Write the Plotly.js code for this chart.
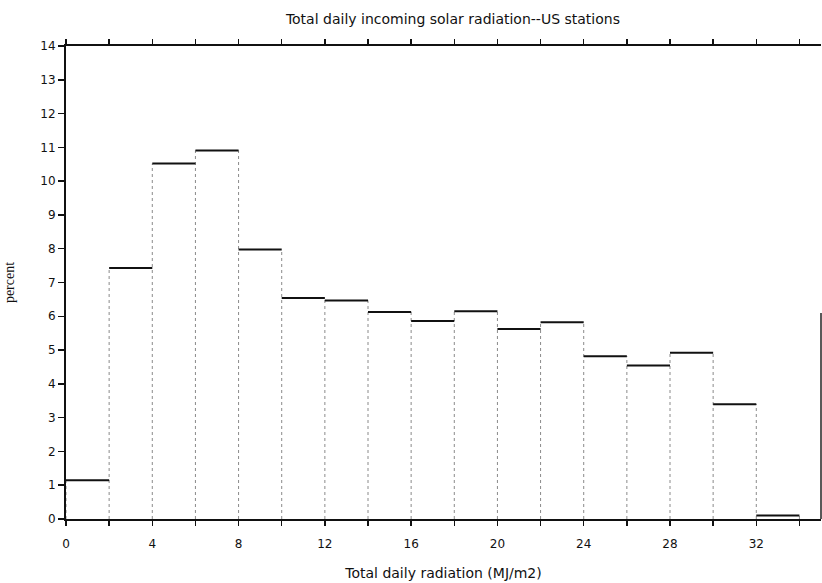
<!DOCTYPE html>
<html>
<head>
<meta charset="utf-8">
<script src="https://cdn.plot.ly/plotly-3.0.1.min.js"></script>
<style>
  html, body { margin: 0; padding: 0; background: #fff; }
  #chart { width: 822px; height: 583px; }
</style>
</head>
<body>
<div id="chart"></div>
<script>
// Histogram bins (MJ/m2): lower and upper edge of each bin
const binLow  = [0, 2, 4, 6, 8, 10, 12, 14, 16, 18, 20, 22, 24, 26, 28, 30, 32];
const binHigh = [2, 4, 6, 8, 10, 12, 14, 16, 18, 20, 22, 24, 26, 28, 30, 32, 34];
// Percent of days in each bin
const percent = [1.15, 7.43, 10.52, 10.91, 7.98, 6.54, 6.47, 6.13, 5.86, 6.15, 5.62, 5.82, 4.82, 4.54, 4.92, 3.40, 0.10];

const xTickVals = [0, 2, 4, 6, 8, 10, 12, 14, 16, 18, 20, 22, 24, 26, 28, 30, 32, 34];
const xTickText = ['0', '', '4', '', '8', '', '12', '', '16', '', '20', '', '24', '', '28', '', '32', ''];
const yTickVals = [0, 1, 2, 3, 4, 5, 6, 7, 8, 9, 10, 11, 12, 13, 14];

// Build step outline pieces from the data arrays
const topX = [], topY = [];
binLow.forEach((lo, i) => {
  topX.push(lo, binHigh[i], null);
  topY.push(percent[i], percent[i], null);
});
const sideX = [], sideY = [];
binLow.forEach((lo, i) => {
  const left = i > 0 ? percent[i - 1] : 0;
  sideX.push(lo, lo, null);
  sideY.push(0, Math.max(left, percent[i]), null);
});
const last = binLow.length - 1;
sideX.push(binHigh[last], binHigh[last], null);
sideY.push(0, percent[last], null);

const traces = [
  {
    type: 'scatter', mode: 'lines', x: sideX, y: sideY,
    line: { color: '#8a8a8a', width: 1, dash: 'dot' },
    hoverinfo: 'skip', showlegend: false, connectgaps: false
  },
  {
    type: 'scatter', mode: 'lines', x: topX, y: topY,
    line: { color: '#111', width: 2 },
    showlegend: false, connectgaps: false
  }
];

const layout = {
  width: 822, height: 583,
  margin: { l: 66, r: 1, t: 46, b: 64 },
  paper_bgcolor: '#fff', plot_bgcolor: '#fff',
  font: { family: 'DejaVu Sans, Arial, sans-serif', size: 12, color: '#111' },
  title: {
    text: 'Total daily incoming solar radiation--US stations',
    font: { family: 'DejaVu Sans, Arial, sans-serif', size: 14, color: '#111' },
    x: 0.551, xanchor: 'center', y: 0.968, yanchor: 'middle'
  },
  xaxis: {
    range: [0, 35],
    tickmode: 'array', tickvals: xTickVals, ticktext: xTickText,
    ticks: 'outside', ticklen: 5, tickwidth: 1.5, tickcolor: '#111',
    ticklabelstandoff: 8,
    showline: true, linecolor: '#111', linewidth: 2, mirror: 'ticks',
    showgrid: false, zeroline: false,
    tickfont: { size: 12 },
    title: { text: 'Total daily radiation (MJ/m2)', font: { size: 14 }, standoff: 18 }
  },
  yaxis: {
    range: [0, 14],
    tickmode: 'array', tickvals: yTickVals,
    ticks: 'outside', ticklen: 6, tickwidth: 1.5, tickcolor: '#111',
    showline: true, linecolor: '#111', linewidth: 2,
    showgrid: false, zeroline: false,
    tickfont: { size: 12 },
    title: { text: 'percent', font: { family: 'Liberation Serif, serif', size: 14 }, standoff: 22 }
  },
  shapes: [
    { type: 'line', xref: 'paper', yref: 'y', x0: 1, x1: 1, y0: 0, y1: 6.1,
      line: { color: '#222', width: 1.5 } }
  ]
};

Plotly.newPlot('chart', traces, layout, { displayModeBar: false, staticPlot: true });
</script>
</body>
</html>
